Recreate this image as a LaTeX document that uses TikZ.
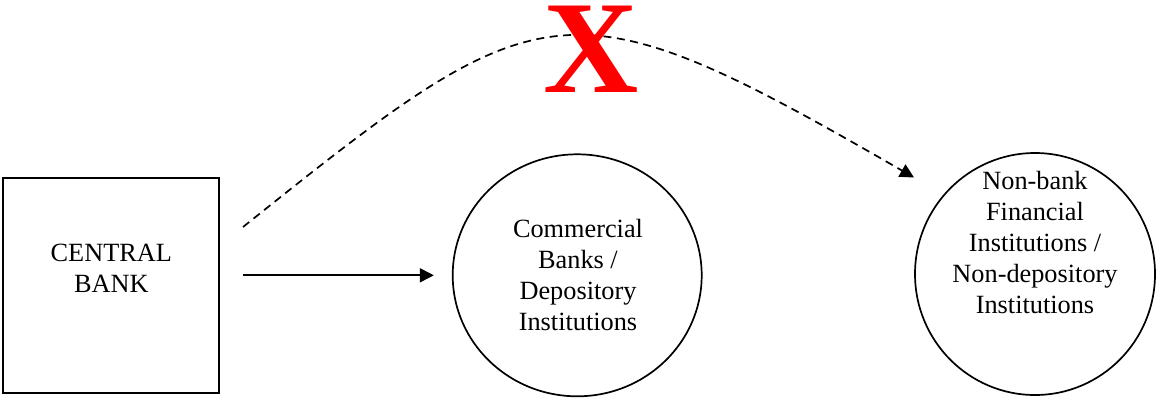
\documentclass[tikz,border=0pt]{standalone}
\usepackage{fontspec}
\setmainfont{Liberation Serif}
\usetikzlibrary{arrows.meta,shapes.geometric}
\begin{document}
\begin{tikzpicture}[x=1pt,y=-1pt,
  lbl/.style={align=center,inner sep=0pt,font=\fontsize{26.3}{30.8}\selectfont},
  boxnode/.style={draw,line width=1.7pt,minimum width=216pt,minimum height=215pt,inner sep=0pt},
  ellnode/.style={draw,ellipse,line width=1.7pt,inner sep=0pt},
  conn/.style={line width=1.7pt,-{Triangle[length=14pt,width=14pt]}},
  dashconn/.style={conn,dash pattern=on 8pt off 5.5pt}]
\useasboundingbox[fill=white] (0,0) rectangle (1158,397);
\node[boxnode] (cb) at (111.3,285.8) {};
\node[lbl] (cbt) at (111.3,268) {CENTRAL\\BANK};
\node[ellnode,minimum width=249pt,minimum height=242pt] (cbk) at (577.2,275.3) {};
\node[lbl] (cbkt) at (578,275) {Commercial\\Banks /\\Depository\\Institutions};
\node[ellnode,minimum width=240pt,minimum height=242pt] (nbfi) at (1035,274) {};
\node[lbl] (nbfit) at (1035,242.5) {Non-bank\\Financial\\Institutions /\\Non-depository\\Institutions};
\draw[conn,shorten <=23pt,shorten >=18pt] (cb.east |- cbk.center) -- (cbk.west);
\coordinate (ds) at (243,227);
\coordinate (de) at (914,177.5);
\draw[dashconn] (ds) .. controls (543,-13) and (565,-24) .. (de);
\node[text=red,inner sep=0pt,anchor=base,font=\fontsize{132}{132}\selectfont\bfseries] (xmark) at (591,92) {X};
\end{tikzpicture}
\end{document}
